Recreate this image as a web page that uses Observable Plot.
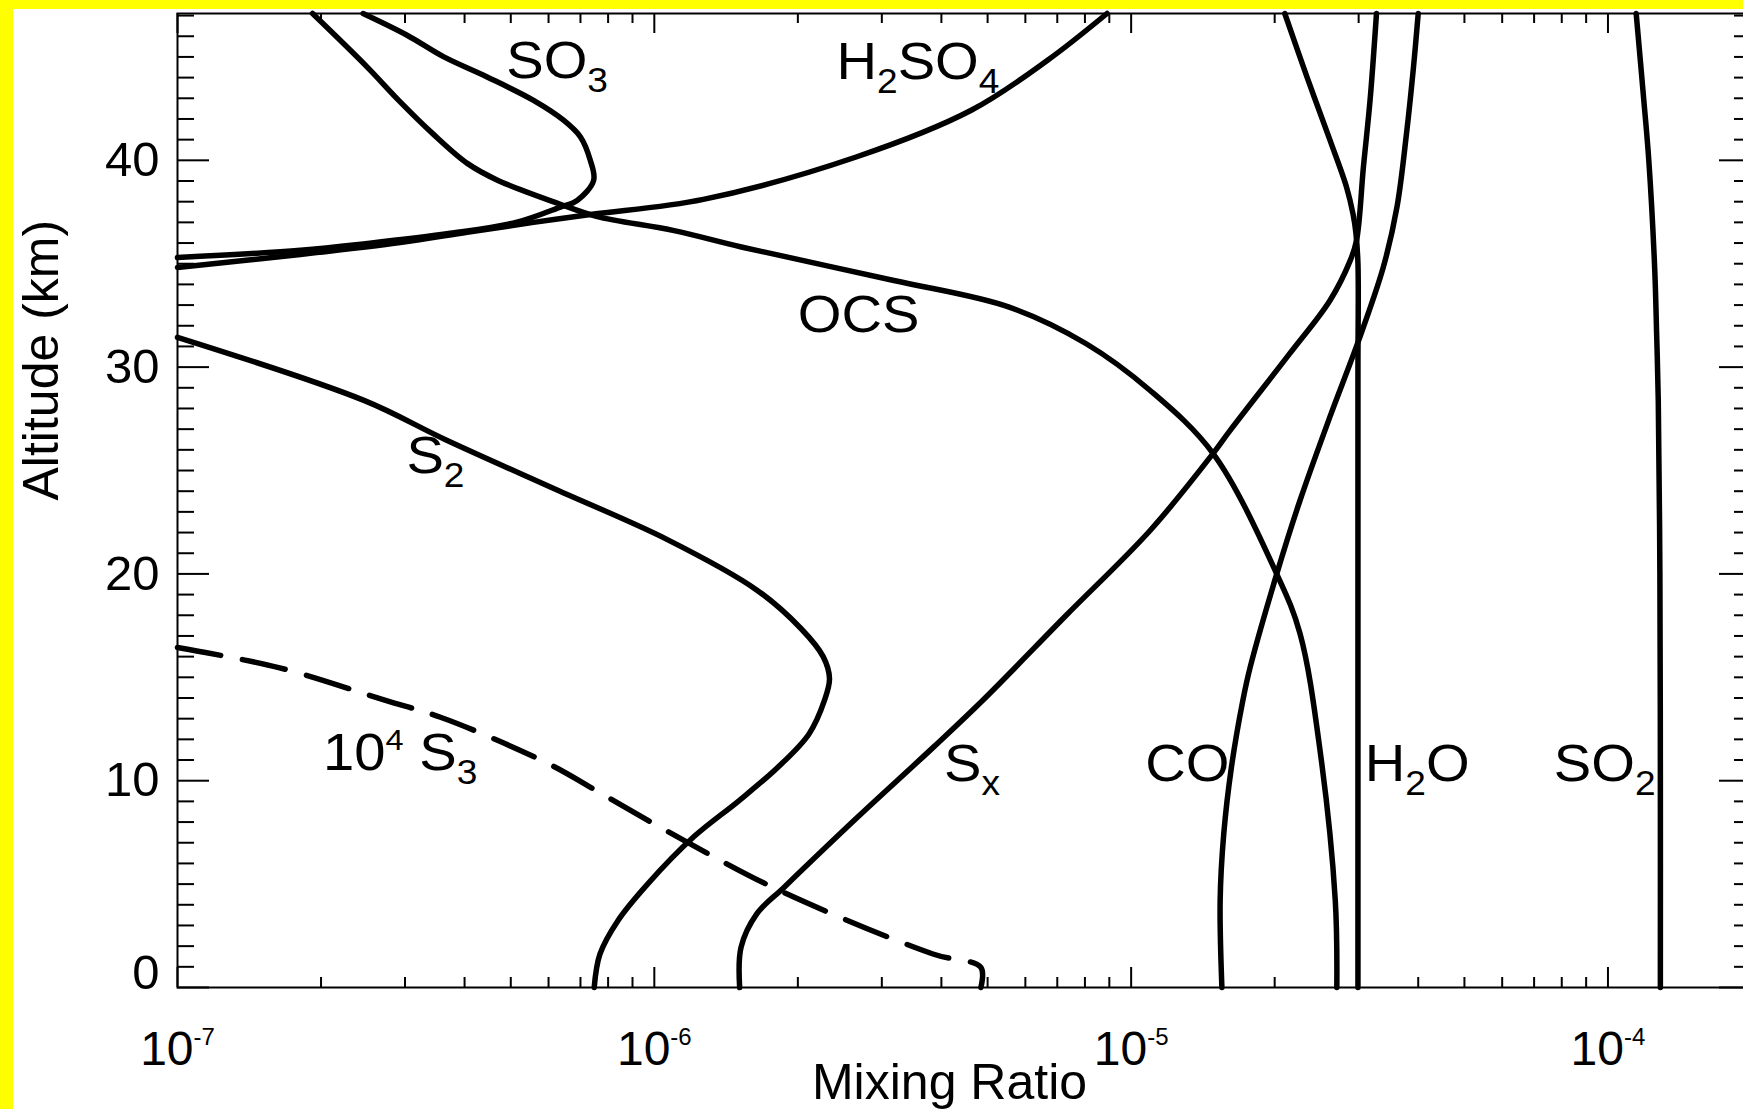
<!DOCTYPE html>
<html><head><meta charset="utf-8">
<script src="https://cdn.jsdelivr.net/npm/d3@7"></script>
<script src="https://cdn.jsdelivr.net/npm/@observablehq/plot@0.6"></script>
<style>
html,body{margin:0;padding:0;overflow:hidden;background:#ffff00;width:1743px;height:1109px;}
#panel{position:absolute;left:13px;top:9px;width:1730px;height:1100px;background:#fff;overflow:hidden;}
</style></head><body><div id="panel"></div>
<script>
// ---- data: [altitude km, mixing ratio] ----
const SO2 = [[0,1.288e-4],[10,1.288e-4],[20,1.285e-4],[28.4,1.275e-4],[31.6,1.265e-4],[34.8,1.253e-4],[40,1.218e-4],[43,1.188e-4],[47.1,1.146e-4]];
const H2O = [[0,2.99e-5],[10,2.99e-5],[20,2.99e-5],[30,2.99e-5],[35,2.99e-5],[36.5,2.96e-5],[37.4,2.92e-5],[38.7,2.83e-5],[41,2.61e-5],[44,2.34e-5],[47.1,2.10e-5]];
const CO = [[0,1.55e-5],[4.2,1.537e-5],[7.43,1.564e-5],[10.65,1.623e-5],[13.88,1.715e-5],[15.49,1.777e-5],[20.0,2.02e-5],[23.55,2.26e-5],[27.58,2.61e-5],[31.29,3.0e-5],[34.84,3.38e-5],[37.74,3.61e-5],[41.29,3.78e-5],[44.51,3.91e-5],[47.1,4.0e-5]];
const Sx = [[0,1.51e-6],[1.94,1.52e-6],[3.56,1.64e-6],[4.84,1.87e-6],[8.17,2.65e-6],[11.6,3.84e-6],[13.88,4.88e-6],[18.0,7.31e-6],[22.1,1.096e-5],[25.83,1.486e-5],[26.94,1.613e-5],[30.65,2.15e-5],[33.21,2.61e-5],[35.15,2.88e-5],[36.13,2.97e-5],[39.68,3.07e-5],[42.9,3.17e-5],[47.1,3.27e-5]];
const OCS = [[47.1,1.92e-7],[44.51,2.50e-7],[42.9,2.91e-7],[41.29,3.43e-7],[39.84,4.06e-7],[39.03,4.70e-7],[37.9,6.31e-7],[37.29,7.56e-7],[36.6,1.1e-6],[35.81,1.522e-6],[34.19,3.18e-6],[32.9,5.55e-6],[31.13,8.05e-6],[28.87,1.096e-5],[25.82,1.486e-5],[20.0,2.02e-5],[17.12,2.26e-5],[11.46,2.49e-5],[4.2,2.68e-5],[0,2.70e-5]];
const SO3 = [[47.1,2.45e-7],[46.05,3.03e-7],[45.0,3.62e-7],[44.03,4.46e-7],[42.9,5.58e-7],[41.94,6.45e-7],[41.13,7.00e-7],[40.0,7.34e-7],[39.03,7.46e-7],[38.06,6.89e-7],[37.74,6.35e-7],[37.01,5.15e-7],[36.47,3.73e-7],[35.98,2.50e-7],[35.65,1.81e-7],[35.3,1.0e-7]];
const H2SO4 = [[34.82,1.0e-7],[35.45,1.81e-7],[36.03,2.93e-7],[36.52,4.05e-7],[37.0,5.58e-7],[37.39,7.41e-7],[38.11,1.267e-6],[40.16,2.65e-6],[42.42,4.62e-6],[44.84,6.68e-6],[47.1,8.9e-6]];
const S2 = [[31.44,1.0e-7],[28.39,2.46e-7],[26.5,3.64e-7],[24.08,6.22e-7],[21.66,1.065e-6],[19.24,1.636e-6],[17.36,2.03e-6],[16.0,2.26e-6],[14.94,2.33e-6],[13.87,2.273e-6],[12.25,2.109e-6],[10.64,1.814e-6],[9.03,1.504e-6],[7.31,1.213e-6],[5.0,9.68e-7],[3.22,8.38e-7],[1.61,7.69e-7],[0,7.48e-7]];
const S3x1e4 = [[16.44,1.0e-7],[15.47,1.63e-7],[13.9,2.72e-7],[13.07,3.56e-7],[11.94,4.70e-7],[10.65,6.20e-7],[9.6,7.45e-7],[7.1,1.156e-6],[4.68,1.834e-6],[1.62,3.84e-6],[0.97,4.84e-6],[0,4.84e-6]];

const labelText = ["SO_3","H_2SO_4","OCS","S_2","10^4 S_3","S_x","CO","H_2O","SO_2"];
const labelMix  = [4.89e-7, 2.41e-6, 2.00e-6, 3.02e-7, 2.02e-7, 4.05e-6, 1.07e-5, 3.09e-5, 7.70e-5];
const labelAlt  = [44.0, 43.95, 31.7, 24.9, 10.5, 10.0, 10.0, 10.0, 10.0];

const xMajor = [1e-7, 1e-6, 1e-5, 1e-4];
const xMinor = [2e-7,3e-7,4e-7,5e-7,6e-7,7e-7,8e-7,9e-7,2e-6,3e-6,4e-6,5e-6,6e-6,7e-6,8e-6,9e-6,2e-5,3e-5,4e-5,5e-5,6e-5,7e-5,8e-5,9e-5];
const yMajor = [0, 10, 20, 30, 40];
const yMinor = d3.range(1, 48).filter(v => v % 10 !== 0);

// ---- layout ----
const W = 1750, H = 1100, mL = 164, mR = 12, mT = 4, mB = 122;
const plotW = W - mL - mR, plotH = H - mT - mB;
const FT = 48, FL = 52, FA = 50;

const solid = {SO2, H2O, CO, Sx, OCS, SO3, H2SO4, S2};
const solidRows = Object.entries(solid).flatMap(([name, arr]) => arr.map(([alt, mix]) => ({name, alt, mix})));
const dashedRows = S3x1e4.map(([alt, mix]) => ({name: "S3", alt, mix}));
const labels = labelText.map((t, i) => ({t, mix: labelMix[i], alt: labelAlt[i]}));

const chart = Plot.plot({
  width: W, height: H,
  marginLeft: mL, marginRight: mR, marginTop: mT, marginBottom: mB,
  x: {type: "log", domain: [1e-7, 2e-4], label: null},
  y: {domain: [0, 47.1], label: null},
  style: {fontFamily: "'Liberation Sans', Arial, Helvetica, sans-serif", fontSize: FT + "px", color: "black", background: "white", overflow: "visible", maxWidth: "none"},
  marks: [
    Plot.line(solidRows, {x: "mix", y: "alt", z: "name", curve: "catmull-rom", stroke: "black", strokeWidth: 5.5}),
    Plot.line(dashedRows, {x: "mix", y: "alt", curve: "catmull-rom", stroke: "black", strokeWidth: 5.5, strokeDasharray: "44,22"}),
    Plot.text(labels, {x: "mix", y: "alt", text: "t", textAnchor: "start", lineAnchor: "bottom", fontSize: FL, fill: "black", className: "lbl"}),
    // ticks drawn inward
    Plot.ruleY(yMinor, {y: d => d, insetRight: plotW - 17, stroke: "black", strokeWidth: 2}),
    Plot.ruleY(yMajor, {y: d => d, insetRight: plotW - 32, stroke: "black", strokeWidth: 2}),
    Plot.ruleY(yMinor, {y: d => d, insetLeft: plotW - 17, stroke: "black", strokeWidth: 2}),
    Plot.ruleY(yMajor, {y: d => d, insetLeft: plotW - 32, stroke: "black", strokeWidth: 2}),
    Plot.ruleX(xMinor, {x: d => d, insetTop: plotH - 10, stroke: "black", strokeWidth: 2}),
    Plot.ruleX(xMajor, {x: d => d, insetTop: plotH - 20, stroke: "black", strokeWidth: 2}),
    Plot.ruleX(xMinor, {x: d => d, insetBottom: plotH - 10, stroke: "black", strokeWidth: 2}),
    Plot.ruleX(xMajor, {x: d => d, insetBottom: plotH - 20, stroke: "black", strokeWidth: 2}),
    Plot.frame({stroke: "black", strokeWidth: 2}),
    Plot.axisX({ticks: xMajor, anchor: "bottom", tickSize: 0, tickPadding: 43, fontSize: FT, label: null, className: "xt",
      tickFormat: d => `10^${Math.round(Math.log10(d))}`}),
    Plot.axisY({ticks: yMajor.filter(v => v > 0), anchor: "left", tickSize: 0, tickPadding: 18, fontSize: FT + 1, label: null}),
    Plot.axisY({ticks: [0], anchor: "left", tickSize: 0, tickPadding: 18, dy: -14, fontSize: FT + 1, label: null}),
    Plot.text(["Mixing Ratio"], {frameAnchor: "bottom", dx: -15, dy: 111, lineAnchor: "bottom", fontSize: FA, fill: "black"}),
    Plot.text(["Altitude (km)"], {frameAnchor: "left", rotate: -90, dx: -120, lineAnchor: "bottom", fontSize: FA, fill: "black"})
  ]
});

// rich text: _sub and ^sup via tspans
function richText(svg) {
  svg.querySelectorAll("text").forEach(el => {
    const s = el.textContent;
    if (!/[_^]/.test(s)) return;
    const isLabel = !!el.closest("g.lbl");
    const size = isLabel ? FL : FT;
    const subK = 0.66, supK = isLabel ? 0.58 : 0.5;
    const parts = [];
    const re = /([_^])(-?[0-9a-z]+)/g;
    let last = 0, m;
    while ((m = re.exec(s))) {
      if (m.index > last) parts.push({t: s.slice(last, m.index), k: ""});
      parts.push({t: m[2], k: m[1]});
      last = re.lastIndex;
    }
    if (last < s.length) parts.push({t: s.slice(last), k: ""});
    el.textContent = "";
    let shift = 0;
    for (const p of parts) {
      const ts = document.createElementNS("http://www.w3.org/2000/svg", "tspan");
      const target = p.k === "_" ? 0.27 * size : p.k === "^" ? -0.4 * size : 0;
      const d = target - shift;
      if (d) ts.setAttribute("dy", d);
      shift = target;
      if (p.k) ts.setAttribute("font-size", (p.k === "_" ? subK : supK) * size);
      ts.textContent = p.t;
      el.appendChild(ts);
    }
    el.style.whiteSpace = "pre";
  });
}
document.getElementById("panel").appendChild(chart);
richText(chart);
// labels in the reference are set a little wider
chart.querySelectorAll("g.lbl text").forEach(el => {
  el.setAttribute("transform", (el.getAttribute("transform") || "") + " scale(1.08,1)");
});
</script></body></html>
